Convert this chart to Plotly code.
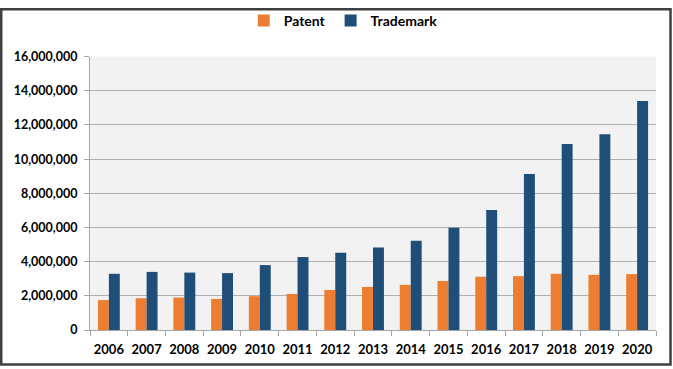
import plotly.graph_objects as go

years = ["2006", "2007", "2008", "2009", "2010", "2011", "2012", "2013",
         "2014", "2015", "2016", "2017", "2018", "2019", "2020"]
patent = [1750000, 1860000, 1900000, 1820000, 1980000, 2110000, 2340000, 2520000,
          2640000, 2870000, 3120000, 3150000, 3290000, 3230000, 3270000]
trademark = [3290000, 3400000, 3360000, 3330000, 3800000, 4270000, 4520000, 4830000,
             5230000, 5980000, 7020000, 9130000, 10880000, 11460000, 13400000]
y_ticks = [0, 2000000, 4000000, 6000000, 8000000, 10000000, 12000000, 14000000, 16000000]

W, H = 673, 369
L, R, T, B = 90, 17, 50, 38
pw, ph = W - L - R, H - T - B

FAM = "Lato, Open Sans, sans-serif"

fig = go.Figure()
fig.add_trace(go.Bar(name="Patent", x=years, y=patent, marker_color="#ED7D31",
                     marker_line_width=0))
fig.add_trace(go.Bar(name="Trademark", x=years, y=trademark, marker_color="#1F4E79",
                     marker_line_width=0))

def px_x(p):
    return (p - L) / pw

def px_y(p):
    return (H - B - p) / ph

fig.update_layout(
    width=W, height=H,
    margin=dict(l=L, r=R, t=T, b=B, pad=0),
    paper_bgcolor="white",
    plot_bgcolor="#F2F2F2",
    barmode="group",
    bargap=0.42,
    bargroupgap=0,
    font=dict(family=FAM, size=13, color="#000000", weight="bold"),
    legend=dict(orientation="h", x=0.51, xanchor="center", xref="container",
                y=1 - 21 / H, yanchor="middle", yref="container",
                font=dict(family=FAM, size=14, color="#000000", weight="bold"),
                tracegroupgap=0, bgcolor="rgba(0,0,0,0)"),
    xaxis=dict(showgrid=False, showline=True, linecolor="#A6A6A6", linewidth=1,
               ticks="outside", tickson="boundaries", ticklen=5, tickcolor="#A6A6A6",
               tickangle=0, ticklabelstandoff=7,
               tickfont=dict(family=FAM, size=13, color="#000000", weight="bold")),
    yaxis=dict(range=[0, 16000000], tickvals=y_ticks, tickformat=",d",
               showgrid=True, gridcolor="#B0B0B0", gridwidth=1,
               showline=True, linecolor="#A6A6A6", linewidth=1,
               ticks="outside", ticklen=5, tickcolor="#A6A6A6", zeroline=False,
               ticklabelstandoff=4,
               tickfont=dict(family=FAM, size=12.5, color="#000000", weight="bold")),
    shapes=[dict(type="rect", xref="paper", yref="paper",
                 x0=px_x(1.2), x1=px_x(W - 2.5), y0=px_y(H - 2.5), y1=px_y(1.2),
                 line=dict(color="#3F3F3F", width=2.5), fillcolor="rgba(0,0,0,0)",
                 layer="above")],
)

fig.write_html("out.html", config={"displayModeBar": False},
               post_script="document.body.style.margin='0';document.body.style.overflow='hidden';")
